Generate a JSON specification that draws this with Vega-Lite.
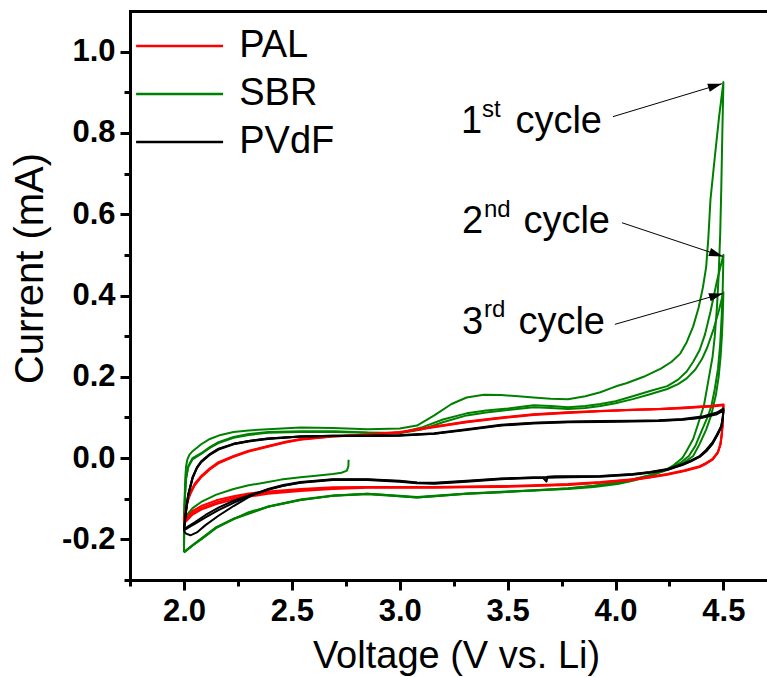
{
  "$schema": "https://vega.github.io/schema/vega-lite/v6.json",
  "width": 637,
  "height": 569,
  "autosize": {"type": "none"},
  "padding": {"left": 130, "top": 11, "right": 0, "bottom": 97},
  "background": "white",
  "config": {
    "view": {"stroke": null},
    "font": "Liberation Sans",
    "axis": {
      "grid": false,
      "domainColor": "black",
      "domainWidth": 3,
      "domainCap": "square",
      "tickColor": "black",
      "tickWidth": 3,
      "labelFont": "Liberation Sans",
      "labelFontWeight": "bold",
      "labelFontSize": 31,
      "labelColor": "black",
      "labelOverlap": false,
      "labelFlush": false,
      "titleFont": "Liberation Sans",
      "titleFontWeight": "normal",
      "titleFontSize": 38,
      "titleColor": "black"
    }
  },
  "datasets": {
    "cv": [
      {"b":"SBR","k":1,"v":2.763,"c":-0.004},{"b":"SBR","k":1,"v":2.762,"c":-0.02},{"b":"SBR","k":1,"v":2.755,"c":-0.031},{"b":"SBR","k":1,"v":2.73,"c":-0.036},{"b":"SBR","k":1,"v":2.69,"c":-0.039},{"b":"SBR","k":1,"v":2.6,"c":-0.044},{"b":"SBR","k":1,"v":2.54,"c":-0.047},{"b":"SBR","k":1,"v":2.45,"c":-0.053},{"b":"SBR","k":1,"v":2.39,"c":-0.059},{"b":"SBR","k":1,"v":2.3,"c":-0.067},{"b":"SBR","k":1,"v":2.23,"c":-0.076},{"b":"SBR","k":1,"v":2.15,"c":-0.09},{"b":"SBR","k":1,"v":2.08,"c":-0.108},{"b":"SBR","k":1,"v":2.04,"c":-0.123},{"b":"SBR","k":1,"v":2.01,"c":-0.142},{"b":"SBR","k":1,"v":2.0,"c":-0.152},
      {"b":"SBR","k":1,"v":2.003,"c":-0.1},{"b":"SBR","k":1,"v":2.006,"c":-0.05},{"b":"SBR","k":1,"v":2.01,"c":-0.02},{"b":"SBR","k":1,"v":2.016,"c":-0.003},{"b":"SBR","k":1,"v":2.025,"c":0.008},{"b":"SBR","k":1,"v":2.04,"c":0.017},{"b":"SBR","k":1,"v":2.08,"c":0.034},{"b":"SBR","k":1,"v":2.12,"c":0.047},{"b":"SBR","k":1,"v":2.17,"c":0.057},{"b":"SBR","k":1,"v":2.23,"c":0.064},{"b":"SBR","k":1,"v":2.3,"c":0.068},{"b":"SBR","k":1,"v":2.39,"c":0.071},{"b":"SBR","k":1,"v":2.54,"c":0.075},{"b":"SBR","k":1,"v":2.69,"c":0.074},{"b":"SBR","k":1,"v":2.85,"c":0.071},{"b":"SBR","k":1,"v":3.0,"c":0.073},{"b":"SBR","k":1,"v":3.08,"c":0.08},{"b":"SBR","k":1,"v":3.16,"c":0.105},{"b":"SBR","k":1,"v":3.24,"c":0.133},{"b":"SBR","k":1,"v":3.31,"c":0.149},{"b":"SBR","k":1,"v":3.39,"c":0.156},{"b":"SBR","k":1,"v":3.47,"c":0.155},{"b":"SBR","k":1,"v":3.55,"c":0.152},{"b":"SBR","k":1,"v":3.62,"c":0.149},{"b":"SBR","k":1,"v":3.7,"c":0.146},{"b":"SBR","k":1,"v":3.78,"c":0.145},{"b":"SBR","k":1,"v":3.86,"c":0.152},{"b":"SBR","k":1,"v":3.93,"c":0.162},{"b":"SBR","k":1,"v":3.98,"c":0.172},{"b":"SBR","k":1,"v":4.01,"c":0.178},{"b":"SBR","k":1,"v":4.05,"c":0.184},{"b":"SBR","k":1,"v":4.13,"c":0.2},{"b":"SBR","k":1,"v":4.21,"c":0.22},{"b":"SBR","k":1,"v":4.26,"c":0.237},{"b":"SBR","k":1,"v":4.3,"c":0.257},{"b":"SBR","k":1,"v":4.33,"c":0.285},{"b":"SBR","k":1,"v":4.36,"c":0.324},{"b":"SBR","k":1,"v":4.385,"c":0.37},{"b":"SBR","k":1,"v":4.405,"c":0.42},{"b":"SBR","k":1,"v":4.42,"c":0.47},{"b":"SBR","k":1,"v":4.43,"c":0.54},{"b":"SBR","k":1,"v":4.44,"c":0.636},{"b":"SBR","k":1,"v":4.46,"c":0.74},{"b":"SBR","k":1,"v":4.48,"c":0.84},{"b":"SBR","k":1,"v":4.5,"c":0.925},
      {"b":"SBR","k":1,"v":4.495,"c":0.8},{"b":"SBR","k":1,"v":4.49,"c":0.66},{"b":"SBR","k":1,"v":4.485,"c":0.55},{"b":"SBR","k":1,"v":4.478,"c":0.45},{"b":"SBR","k":1,"v":4.47,"c":0.37},{"b":"SBR","k":1,"v":4.46,"c":0.3},{"b":"SBR","k":1,"v":4.45,"c":0.25},{"b":"SBR","k":1,"v":4.43,"c":0.19},{"b":"SBR","k":1,"v":4.41,"c":0.13},{"b":"SBR","k":1,"v":4.39,"c":0.096},{"b":"SBR","k":1,"v":4.36,"c":0.047},{"b":"SBR","k":1,"v":4.33,"c":0.018},{"b":"SBR","k":1,"v":4.31,"c":0.0},{"b":"SBR","k":1,"v":4.27,"c":-0.017},{"b":"SBR","k":1,"v":4.24,"c":-0.027},{"b":"SBR","k":1,"v":4.16,"c":-0.044},{"b":"SBR","k":1,"v":4.08,"c":-0.056},{"b":"SBR","k":1,"v":4.01,"c":-0.064},{"b":"SBR","k":1,"v":3.9,"c":-0.071},{"b":"SBR","k":1,"v":3.78,"c":-0.076},{"b":"SBR","k":1,"v":3.62,"c":-0.08},{"b":"SBR","k":1,"v":3.47,"c":-0.084},{"b":"SBR","k":1,"v":3.31,"c":-0.088},{"b":"SBR","k":1,"v":3.16,"c":-0.094},{"b":"SBR","k":1,"v":3.08,"c":-0.097},{"b":"SBR","k":1,"v":3.0,"c":-0.094},{"b":"SBR","k":1,"v":2.92,"c":-0.09},{"b":"SBR","k":1,"v":2.85,"c":-0.088},{"b":"SBR","k":1,"v":2.69,"c":-0.093},{"b":"SBR","k":1,"v":2.54,"c":-0.103},{"b":"SBR","k":1,"v":2.39,"c":-0.12},{"b":"SBR","k":1,"v":2.3,"c":-0.133},{"b":"SBR","k":1,"v":2.23,"c":-0.15},{"b":"SBR","k":1,"v":2.15,"c":-0.172},{"b":"SBR","k":1,"v":2.08,"c":-0.2},{"b":"SBR","k":1,"v":2.04,"c":-0.215},{"b":"SBR","k":1,"v":2.0,"c":-0.232},

      {"b":"SBR","k":2,"v":2.0,"c":-0.232},{"b":"SBR","k":2,"v":2.002,"c":-0.15},{"b":"SBR","k":2,"v":2.005,"c":-0.09},{"b":"SBR","k":2,"v":2.01,"c":-0.05},{"b":"SBR","k":2,"v":2.02,"c":-0.02},{"b":"SBR","k":2,"v":2.04,"c":0.0},{"b":"SBR","k":2,"v":2.08,"c":0.012},{"b":"SBR","k":2,"v":2.12,"c":0.027},{"b":"SBR","k":2,"v":2.16,"c":0.039},{"b":"SBR","k":2,"v":2.23,"c":0.052},{"b":"SBR","k":2,"v":2.3,"c":0.059},{"b":"SBR","k":2,"v":2.39,"c":0.064},{"b":"SBR","k":2,"v":2.54,"c":0.066},{"b":"SBR","k":2,"v":2.7,"c":0.066},{"b":"SBR","k":2,"v":2.85,"c":0.063},{"b":"SBR","k":2,"v":3.0,"c":0.062},{"b":"SBR","k":2,"v":3.1,"c":0.075},{"b":"SBR","k":2,"v":3.2,"c":0.095},{"b":"SBR","k":2,"v":3.31,"c":0.11},{"b":"SBR","k":2,"v":3.4,"c":0.117},{"b":"SBR","k":2,"v":3.5,"c":0.122},{"b":"SBR","k":2,"v":3.62,"c":0.13},{"b":"SBR","k":2,"v":3.7,"c":0.128},{"b":"SBR","k":2,"v":3.78,"c":0.125},{"b":"SBR","k":2,"v":3.86,"c":0.128},{"b":"SBR","k":2,"v":3.93,"c":0.133},{"b":"SBR","k":2,"v":4.0,"c":0.14},{"b":"SBR","k":2,"v":4.08,"c":0.152},{"b":"SBR","k":2,"v":4.16,"c":0.165},{"b":"SBR","k":2,"v":4.24,"c":0.177},{"b":"SBR","k":2,"v":4.29,"c":0.193},{"b":"SBR","k":2,"v":4.33,"c":0.213},{"b":"SBR","k":2,"v":4.36,"c":0.237},{"b":"SBR","k":2,"v":4.39,"c":0.266},{"b":"SBR","k":2,"v":4.415,"c":0.305},{"b":"SBR","k":2,"v":4.44,"c":0.36},{"b":"SBR","k":2,"v":4.47,"c":0.435},{"b":"SBR","k":2,"v":4.5,"c":0.5},
      {"b":"SBR","k":2,"v":4.497,"c":0.42},{"b":"SBR","k":2,"v":4.492,"c":0.35},{"b":"SBR","k":2,"v":4.485,"c":0.28},{"b":"SBR","k":2,"v":4.475,"c":0.22},{"b":"SBR","k":2,"v":4.46,"c":0.17},{"b":"SBR","k":2,"v":4.445,"c":0.13},{"b":"SBR","k":2,"v":4.43,"c":0.105},{"b":"SBR","k":2,"v":4.4,"c":0.068},{"b":"SBR","k":2,"v":4.37,"c":0.03},{"b":"SBR","k":2,"v":4.34,"c":0.005},{"b":"SBR","k":2,"v":4.3,"c":-0.012},{"b":"SBR","k":2,"v":4.24,"c":-0.028},{"b":"SBR","k":2,"v":4.16,"c":-0.042},{"b":"SBR","k":2,"v":4.08,"c":-0.052},{"b":"SBR","k":2,"v":4.01,"c":-0.06},{"b":"SBR","k":2,"v":3.9,"c":-0.068},{"b":"SBR","k":2,"v":3.78,"c":-0.074},{"b":"SBR","k":2,"v":3.62,"c":-0.079},{"b":"SBR","k":2,"v":3.47,"c":-0.083},{"b":"SBR","k":2,"v":3.31,"c":-0.087},{"b":"SBR","k":2,"v":3.16,"c":-0.093},{"b":"SBR","k":2,"v":3.08,"c":-0.096},{"b":"SBR","k":2,"v":3.0,"c":-0.093},{"b":"SBR","k":2,"v":2.85,"c":-0.088},{"b":"SBR","k":2,"v":2.69,"c":-0.092},{"b":"SBR","k":2,"v":2.54,"c":-0.102},{"b":"SBR","k":2,"v":2.39,"c":-0.119},{"b":"SBR","k":2,"v":2.23,"c":-0.149},{"b":"SBR","k":2,"v":2.15,"c":-0.17},{"b":"SBR","k":2,"v":2.08,"c":-0.198},{"b":"SBR","k":2,"v":2.04,"c":-0.214},{"b":"SBR","k":2,"v":2.0,"c":-0.231},

      {"b":"SBR","k":3,"v":2.0,"c":-0.231},{"b":"SBR","k":3,"v":2.002,"c":-0.15},{"b":"SBR","k":3,"v":2.005,"c":-0.09},{"b":"SBR","k":3,"v":2.01,"c":-0.05},{"b":"SBR","k":3,"v":2.02,"c":-0.022},{"b":"SBR","k":3,"v":2.04,"c":-0.003},{"b":"SBR","k":3,"v":2.08,"c":0.01},{"b":"SBR","k":3,"v":2.12,"c":0.025},{"b":"SBR","k":3,"v":2.16,"c":0.037},{"b":"SBR","k":3,"v":2.23,"c":0.05},{"b":"SBR","k":3,"v":2.3,"c":0.057},{"b":"SBR","k":3,"v":2.39,"c":0.062},{"b":"SBR","k":3,"v":2.54,"c":0.064},{"b":"SBR","k":3,"v":2.7,"c":0.064},{"b":"SBR","k":3,"v":2.85,"c":0.062},{"b":"SBR","k":3,"v":3.0,"c":0.061},{"b":"SBR","k":3,"v":3.1,"c":0.07},{"b":"SBR","k":3,"v":3.2,"c":0.088},{"b":"SBR","k":3,"v":3.31,"c":0.105},{"b":"SBR","k":3,"v":3.4,"c":0.112},{"b":"SBR","k":3,"v":3.5,"c":0.118},{"b":"SBR","k":3,"v":3.62,"c":0.125},{"b":"SBR","k":3,"v":3.7,"c":0.123},{"b":"SBR","k":3,"v":3.78,"c":0.121},{"b":"SBR","k":3,"v":3.86,"c":0.123},{"b":"SBR","k":3,"v":3.93,"c":0.128},{"b":"SBR","k":3,"v":4.0,"c":0.135},{"b":"SBR","k":3,"v":4.08,"c":0.145},{"b":"SBR","k":3,"v":4.16,"c":0.157},{"b":"SBR","k":3,"v":4.24,"c":0.17},{"b":"SBR","k":3,"v":4.29,"c":0.182},{"b":"SBR","k":3,"v":4.33,"c":0.196},{"b":"SBR","k":3,"v":4.37,"c":0.218},{"b":"SBR","k":3,"v":4.4,"c":0.243},{"b":"SBR","k":3,"v":4.425,"c":0.272},{"b":"SBR","k":3,"v":4.455,"c":0.318},{"b":"SBR","k":3,"v":4.48,"c":0.365},{"b":"SBR","k":3,"v":4.5,"c":0.408},
      {"b":"SBR","k":3,"v":4.497,"c":0.35},{"b":"SBR","k":3,"v":4.493,"c":0.3},{"b":"SBR","k":3,"v":4.487,"c":0.25},{"b":"SBR","k":3,"v":4.478,"c":0.2},{"b":"SBR","k":3,"v":4.465,"c":0.155},{"b":"SBR","k":3,"v":4.45,"c":0.12},{"b":"SBR","k":3,"v":4.44,"c":0.1},{"b":"SBR","k":3,"v":4.42,"c":0.07},{"b":"SBR","k":3,"v":4.39,"c":0.035},{"b":"SBR","k":3,"v":4.36,"c":0.005},{"b":"SBR","k":3,"v":4.32,"c":-0.01},{"b":"SBR","k":3,"v":4.26,"c":-0.026},{"b":"SBR","k":3,"v":4.18,"c":-0.04},{"b":"SBR","k":3,"v":4.08,"c":-0.053},{"b":"SBR","k":3,"v":4.01,"c":-0.061},{"b":"SBR","k":3,"v":3.9,"c":-0.069},{"b":"SBR","k":3,"v":3.78,"c":-0.075},{"b":"SBR","k":3,"v":3.62,"c":-0.08},{"b":"SBR","k":3,"v":3.47,"c":-0.084},{"b":"SBR","k":3,"v":3.31,"c":-0.088},{"b":"SBR","k":3,"v":3.16,"c":-0.094},{"b":"SBR","k":3,"v":3.08,"c":-0.097},{"b":"SBR","k":3,"v":3.0,"c":-0.094},{"b":"SBR","k":3,"v":2.85,"c":-0.089},{"b":"SBR","k":3,"v":2.69,"c":-0.093},{"b":"SBR","k":3,"v":2.54,"c":-0.103},{"b":"SBR","k":3,"v":2.39,"c":-0.12},{"b":"SBR","k":3,"v":2.23,"c":-0.15},{"b":"SBR","k":3,"v":2.15,"c":-0.171},{"b":"SBR","k":3,"v":2.08,"c":-0.199},{"b":"SBR","k":3,"v":2.04,"c":-0.215},{"b":"SBR","k":3,"v":2.0,"c":-0.232},

      {"b":"PAL","k":1,"v":2.0,"c":-0.152},{"b":"PAL","k":1,"v":2.01,"c":-0.12},{"b":"PAL","k":1,"v":2.02,"c":-0.098},{"b":"PAL","k":1,"v":2.03,"c":-0.084},{"b":"PAL","k":1,"v":2.05,"c":-0.063},{"b":"PAL","k":1,"v":2.08,"c":-0.044},{"b":"PAL","k":1,"v":2.12,"c":-0.025},{"b":"PAL","k":1,"v":2.16,"c":-0.01},{"b":"PAL","k":1,"v":2.23,"c":0.005},{"b":"PAL","k":1,"v":2.3,"c":0.018},{"b":"PAL","k":1,"v":2.39,"c":0.03},{"b":"PAL","k":1,"v":2.47,"c":0.04},{"b":"PAL","k":1,"v":2.54,"c":0.047},{"b":"PAL","k":1,"v":2.69,"c":0.054},{"b":"PAL","k":1,"v":2.85,"c":0.058},{"b":"PAL","k":1,"v":3.0,"c":0.064},{"b":"PAL","k":1,"v":3.16,"c":0.078},{"b":"PAL","k":1,"v":3.31,"c":0.09},{"b":"PAL","k":1,"v":3.47,"c":0.1},{"b":"PAL","k":1,"v":3.62,"c":0.108},{"b":"PAL","k":1,"v":3.78,"c":0.113},{"b":"PAL","k":1,"v":3.93,"c":0.116},{"b":"PAL","k":1,"v":4.08,"c":0.119},{"b":"PAL","k":1,"v":4.2,"c":0.121},{"b":"PAL","k":1,"v":4.3,"c":0.124},{"b":"PAL","k":1,"v":4.39,"c":0.127},{"b":"PAL","k":1,"v":4.45,"c":0.129},{"b":"PAL","k":1,"v":4.5,"c":0.132},
      {"b":"PAL","k":1,"v":4.497,"c":0.09},{"b":"PAL","k":1,"v":4.493,"c":0.06},{"b":"PAL","k":1,"v":4.487,"c":0.035},{"b":"PAL","k":1,"v":4.475,"c":0.015},{"b":"PAL","k":1,"v":4.45,"c":-0.002},{"b":"PAL","k":1,"v":4.42,"c":-0.012},{"b":"PAL","k":1,"v":4.39,"c":-0.02},{"b":"PAL","k":1,"v":4.32,"c":-0.03},{"b":"PAL","k":1,"v":4.24,"c":-0.039},{"b":"PAL","k":1,"v":4.16,"c":-0.046},{"b":"PAL","k":1,"v":4.08,"c":-0.052},{"b":"PAL","k":1,"v":3.93,"c":-0.059},{"b":"PAL","k":1,"v":3.78,"c":-0.064},{"b":"PAL","k":1,"v":3.62,"c":-0.067},{"b":"PAL","k":1,"v":3.47,"c":-0.069},{"b":"PAL","k":1,"v":3.31,"c":-0.07},{"b":"PAL","k":1,"v":3.16,"c":-0.071},{"b":"PAL","k":1,"v":3.0,"c":-0.071},{"b":"PAL","k":1,"v":2.85,"c":-0.071},{"b":"PAL","k":1,"v":2.69,"c":-0.072},{"b":"PAL","k":1,"v":2.54,"c":-0.076},{"b":"PAL","k":1,"v":2.39,"c":-0.082},{"b":"PAL","k":1,"v":2.3,"c":-0.087},{"b":"PAL","k":1,"v":2.23,"c":-0.094},{"b":"PAL","k":1,"v":2.15,"c":-0.104},{"b":"PAL","k":1,"v":2.08,"c":-0.118},{"b":"PAL","k":1,"v":2.04,"c":-0.13},{"b":"PAL","k":1,"v":2.02,"c":-0.142},{"b":"PAL","k":1,"v":2.0,"c":-0.155},

      {"b":"PAL","k":2,"v":2.0,"c":-0.156},{"b":"PAL","k":2,"v":2.01,"c":-0.123},{"b":"PAL","k":2,"v":2.02,"c":-0.1},{"b":"PAL","k":2,"v":2.03,"c":-0.086},{"b":"PAL","k":2,"v":2.05,"c":-0.065},{"b":"PAL","k":2,"v":2.08,"c":-0.046},{"b":"PAL","k":2,"v":2.12,"c":-0.027},{"b":"PAL","k":2,"v":2.16,"c":-0.012},{"b":"PAL","k":2,"v":2.23,"c":0.004},{"b":"PAL","k":2,"v":2.3,"c":0.017},{"b":"PAL","k":2,"v":2.39,"c":0.029},{"b":"PAL","k":2,"v":2.47,"c":0.039},{"b":"PAL","k":2,"v":2.54,"c":0.046},{"b":"PAL","k":2,"v":2.69,"c":0.053},{"b":"PAL","k":2,"v":2.85,"c":0.058},{"b":"PAL","k":2,"v":3.0,"c":0.063},{"b":"PAL","k":2,"v":3.16,"c":0.077},{"b":"PAL","k":2,"v":3.31,"c":0.089},{"b":"PAL","k":2,"v":3.47,"c":0.099},{"b":"PAL","k":2,"v":3.62,"c":0.107},{"b":"PAL","k":2,"v":3.78,"c":0.112},{"b":"PAL","k":2,"v":3.93,"c":0.116},{"b":"PAL","k":2,"v":4.08,"c":0.119},{"b":"PAL","k":2,"v":4.2,"c":0.121},{"b":"PAL","k":2,"v":4.3,"c":0.123},{"b":"PAL","k":2,"v":4.39,"c":0.126},{"b":"PAL","k":2,"v":4.45,"c":0.128},{"b":"PAL","k":2,"v":4.5,"c":0.131},
      {"b":"PAL","k":2,"v":4.497,"c":0.088},{"b":"PAL","k":2,"v":4.492,"c":0.058},{"b":"PAL","k":2,"v":4.486,"c":0.034},{"b":"PAL","k":2,"v":4.474,"c":0.014},{"b":"PAL","k":2,"v":4.45,"c":-0.003},{"b":"PAL","k":2,"v":4.42,"c":-0.013},{"b":"PAL","k":2,"v":4.39,"c":-0.021},{"b":"PAL","k":2,"v":4.32,"c":-0.031},{"b":"PAL","k":2,"v":4.24,"c":-0.04},{"b":"PAL","k":2,"v":4.16,"c":-0.047},{"b":"PAL","k":2,"v":4.08,"c":-0.053},{"b":"PAL","k":2,"v":3.93,"c":-0.06},{"b":"PAL","k":2,"v":3.78,"c":-0.065},{"b":"PAL","k":2,"v":3.62,"c":-0.068},{"b":"PAL","k":2,"v":3.47,"c":-0.07},{"b":"PAL","k":2,"v":3.31,"c":-0.071},{"b":"PAL","k":2,"v":3.16,"c":-0.072},{"b":"PAL","k":2,"v":3.0,"c":-0.072},{"b":"PAL","k":2,"v":2.85,"c":-0.072},{"b":"PAL","k":2,"v":2.69,"c":-0.074},{"b":"PAL","k":2,"v":2.54,"c":-0.078},{"b":"PAL","k":2,"v":2.39,"c":-0.085},{"b":"PAL","k":2,"v":2.3,"c":-0.091},{"b":"PAL","k":2,"v":2.23,"c":-0.098},{"b":"PAL","k":2,"v":2.15,"c":-0.109},{"b":"PAL","k":2,"v":2.08,"c":-0.123},{"b":"PAL","k":2,"v":2.04,"c":-0.135},{"b":"PAL","k":2,"v":2.02,"c":-0.146},{"b":"PAL","k":2,"v":2.0,"c":-0.158},

      {"b":"PAL","k":3,"v":2.0,"c":-0.158},{"b":"PAL","k":3,"v":2.01,"c":-0.125},{"b":"PAL","k":3,"v":2.02,"c":-0.102},{"b":"PAL","k":3,"v":2.03,"c":-0.088},{"b":"PAL","k":3,"v":2.05,"c":-0.067},{"b":"PAL","k":3,"v":2.08,"c":-0.047},{"b":"PAL","k":3,"v":2.12,"c":-0.028},{"b":"PAL","k":3,"v":2.16,"c":-0.013},{"b":"PAL","k":3,"v":2.23,"c":0.003},{"b":"PAL","k":3,"v":2.3,"c":0.016},{"b":"PAL","k":3,"v":2.39,"c":0.028},{"b":"PAL","k":3,"v":2.47,"c":0.038},{"b":"PAL","k":3,"v":2.54,"c":0.045},{"b":"PAL","k":3,"v":2.69,"c":0.053},{"b":"PAL","k":3,"v":2.85,"c":0.057},{"b":"PAL","k":3,"v":3.0,"c":0.063},{"b":"PAL","k":3,"v":3.16,"c":0.076},{"b":"PAL","k":3,"v":3.31,"c":0.088},{"b":"PAL","k":3,"v":3.47,"c":0.098},{"b":"PAL","k":3,"v":3.62,"c":0.106},{"b":"PAL","k":3,"v":3.78,"c":0.111},{"b":"PAL","k":3,"v":3.93,"c":0.115},{"b":"PAL","k":3,"v":4.08,"c":0.118},{"b":"PAL","k":3,"v":4.2,"c":0.12},{"b":"PAL","k":3,"v":4.3,"c":0.122},{"b":"PAL","k":3,"v":4.39,"c":0.125},{"b":"PAL","k":3,"v":4.45,"c":0.127},{"b":"PAL","k":3,"v":4.5,"c":0.13},
      {"b":"PAL","k":3,"v":4.497,"c":0.087},{"b":"PAL","k":3,"v":4.492,"c":0.057},{"b":"PAL","k":3,"v":4.486,"c":0.033},{"b":"PAL","k":3,"v":4.474,"c":0.013},{"b":"PAL","k":3,"v":4.45,"c":-0.004},{"b":"PAL","k":3,"v":4.42,"c":-0.014},{"b":"PAL","k":3,"v":4.39,"c":-0.022},{"b":"PAL","k":3,"v":4.32,"c":-0.032},{"b":"PAL","k":3,"v":4.24,"c":-0.041},{"b":"PAL","k":3,"v":4.16,"c":-0.048},{"b":"PAL","k":3,"v":4.08,"c":-0.054},{"b":"PAL","k":3,"v":3.93,"c":-0.061},{"b":"PAL","k":3,"v":3.78,"c":-0.066},{"b":"PAL","k":3,"v":3.62,"c":-0.069},{"b":"PAL","k":3,"v":3.47,"c":-0.071},{"b":"PAL","k":3,"v":3.31,"c":-0.072},{"b":"PAL","k":3,"v":3.16,"c":-0.073},{"b":"PAL","k":3,"v":3.0,"c":-0.073},{"b":"PAL","k":3,"v":2.85,"c":-0.073},{"b":"PAL","k":3,"v":2.69,"c":-0.076},{"b":"PAL","k":3,"v":2.54,"c":-0.081},{"b":"PAL","k":3,"v":2.39,"c":-0.088},{"b":"PAL","k":3,"v":2.3,"c":-0.095},{"b":"PAL","k":3,"v":2.23,"c":-0.102},{"b":"PAL","k":3,"v":2.15,"c":-0.113},{"b":"PAL","k":3,"v":2.08,"c":-0.127},{"b":"PAL","k":3,"v":2.04,"c":-0.139},{"b":"PAL","k":3,"v":2.02,"c":-0.15},{"b":"PAL","k":3,"v":2.0,"c":-0.161},

      {"b":"PVdF","k":1,"v":2.0,"c":-0.18},{"b":"PVdF","k":1,"v":2.008,"c":-0.14},{"b":"PVdF","k":1,"v":2.015,"c":-0.11},{"b":"PVdF","k":1,"v":2.02,"c":-0.093},{"b":"PVdF","k":1,"v":2.04,"c":-0.05},{"b":"PVdF","k":1,"v":2.06,"c":-0.025},{"b":"PVdF","k":1,"v":2.08,"c":-0.01},{"b":"PVdF","k":1,"v":2.12,"c":0.008},{"b":"PVdF","k":1,"v":2.16,"c":0.021},{"b":"PVdF","k":1,"v":2.23,"c":0.034},{"b":"PVdF","k":1,"v":2.3,"c":0.041},{"b":"PVdF","k":1,"v":2.39,"c":0.047},{"b":"PVdF","k":1,"v":2.54,"c":0.053},{"b":"PVdF","k":1,"v":2.69,"c":0.055},{"b":"PVdF","k":1,"v":2.85,"c":0.055},{"b":"PVdF","k":1,"v":3.0,"c":0.056},{"b":"PVdF","k":1,"v":3.16,"c":0.061},{"b":"PVdF","k":1,"v":3.31,"c":0.071},{"b":"PVdF","k":1,"v":3.47,"c":0.082},{"b":"PVdF","k":1,"v":3.62,"c":0.087},{"b":"PVdF","k":1,"v":3.78,"c":0.09},{"b":"PVdF","k":1,"v":3.93,"c":0.091},{"b":"PVdF","k":1,"v":4.08,"c":0.092},{"b":"PVdF","k":1,"v":4.2,"c":0.093},{"b":"PVdF","k":1,"v":4.31,"c":0.096},{"b":"PVdF","k":1,"v":4.4,"c":0.102},{"b":"PVdF","k":1,"v":4.47,"c":0.112},{"b":"PVdF","k":1,"v":4.5,"c":0.122},
      {"b":"PVdF","k":1,"v":4.497,"c":0.1},{"b":"PVdF","k":1,"v":4.49,"c":0.079},{"b":"PVdF","k":1,"v":4.47,"c":0.058},{"b":"PVdF","k":1,"v":4.45,"c":0.039},{"b":"PVdF","k":1,"v":4.42,"c":0.02},{"b":"PVdF","k":1,"v":4.39,"c":0.005},{"b":"PVdF","k":1,"v":4.35,"c":-0.006},{"b":"PVdF","k":1,"v":4.31,"c":-0.015},{"b":"PVdF","k":1,"v":4.24,"c":-0.027},{"b":"PVdF","k":1,"v":4.16,"c":-0.034},{"b":"PVdF","k":1,"v":4.08,"c":-0.039},{"b":"PVdF","k":1,"v":3.93,"c":-0.044},{"b":"PVdF","k":1,"v":3.78,"c":-0.045},{"b":"PVdF","k":1,"v":3.72,"c":-0.045},{"b":"PVdF","k":1,"v":3.685,"c":-0.046},{"b":"PVdF","k":1,"v":3.68,"c":-0.058},{"b":"PVdF","k":1,"v":3.665,"c":-0.049},{"b":"PVdF","k":1,"v":3.62,"c":-0.048},{"b":"PVdF","k":1,"v":3.47,"c":-0.05},{"b":"PVdF","k":1,"v":3.31,"c":-0.056},{"b":"PVdF","k":1,"v":3.16,"c":-0.061},{"b":"PVdF","k":1,"v":3.08,"c":-0.06},{"b":"PVdF","k":1,"v":3.0,"c":-0.056},{"b":"PVdF","k":1,"v":2.85,"c":-0.052},{"b":"PVdF","k":1,"v":2.69,"c":-0.052},{"b":"PVdF","k":1,"v":2.54,"c":-0.059},{"b":"PVdF","k":1,"v":2.46,"c":-0.066},{"b":"PVdF","k":1,"v":2.39,"c":-0.076},{"b":"PVdF","k":1,"v":2.31,"c":-0.093},{"b":"PVdF","k":1,"v":2.23,"c":-0.118},{"b":"PVdF","k":1,"v":2.16,"c":-0.142},{"b":"PVdF","k":1,"v":2.1,"c":-0.165},{"b":"PVdF","k":1,"v":2.06,"c":-0.183},{"b":"PVdF","k":1,"v":2.03,"c":-0.19},{"b":"PVdF","k":1,"v":2.01,"c":-0.186},{"b":"PVdF","k":1,"v":2.0,"c":-0.18},

      {"b":"PVdF","k":2,"v":2.0,"c":-0.178},{"b":"PVdF","k":2,"v":2.008,"c":-0.138},{"b":"PVdF","k":2,"v":2.015,"c":-0.108},{"b":"PVdF","k":2,"v":2.02,"c":-0.09},{"b":"PVdF","k":2,"v":2.04,"c":-0.048},{"b":"PVdF","k":2,"v":2.06,"c":-0.024},{"b":"PVdF","k":2,"v":2.08,"c":-0.009},{"b":"PVdF","k":2,"v":2.12,"c":0.009},{"b":"PVdF","k":2,"v":2.16,"c":0.022},{"b":"PVdF","k":2,"v":2.23,"c":0.035},{"b":"PVdF","k":2,"v":2.3,"c":0.042},{"b":"PVdF","k":2,"v":2.39,"c":0.048},{"b":"PVdF","k":2,"v":2.54,"c":0.053},{"b":"PVdF","k":2,"v":2.69,"c":0.055},{"b":"PVdF","k":2,"v":2.85,"c":0.055},{"b":"PVdF","k":2,"v":3.0,"c":0.056},{"b":"PVdF","k":2,"v":3.16,"c":0.06},{"b":"PVdF","k":2,"v":3.31,"c":0.07},{"b":"PVdF","k":2,"v":3.47,"c":0.081},{"b":"PVdF","k":2,"v":3.62,"c":0.086},{"b":"PVdF","k":2,"v":3.78,"c":0.089},{"b":"PVdF","k":2,"v":3.93,"c":0.09},{"b":"PVdF","k":2,"v":4.08,"c":0.091},{"b":"PVdF","k":2,"v":4.2,"c":0.092},{"b":"PVdF","k":2,"v":4.31,"c":0.095},{"b":"PVdF","k":2,"v":4.4,"c":0.1},{"b":"PVdF","k":2,"v":4.47,"c":0.11},{"b":"PVdF","k":2,"v":4.5,"c":0.119},
      {"b":"PVdF","k":2,"v":4.497,"c":0.098},{"b":"PVdF","k":2,"v":4.49,"c":0.077},{"b":"PVdF","k":2,"v":4.47,"c":0.056},{"b":"PVdF","k":2,"v":4.45,"c":0.037},{"b":"PVdF","k":2,"v":4.42,"c":0.018},{"b":"PVdF","k":2,"v":4.39,"c":0.004},{"b":"PVdF","k":2,"v":4.35,"c":-0.007},{"b":"PVdF","k":2,"v":4.31,"c":-0.016},{"b":"PVdF","k":2,"v":4.24,"c":-0.028},{"b":"PVdF","k":2,"v":4.16,"c":-0.035},{"b":"PVdF","k":2,"v":4.08,"c":-0.04},{"b":"PVdF","k":2,"v":3.93,"c":-0.045},{"b":"PVdF","k":2,"v":3.78,"c":-0.046},{"b":"PVdF","k":2,"v":3.62,"c":-0.048},{"b":"PVdF","k":2,"v":3.47,"c":-0.051},{"b":"PVdF","k":2,"v":3.31,"c":-0.057},{"b":"PVdF","k":2,"v":3.16,"c":-0.062},{"b":"PVdF","k":2,"v":3.08,"c":-0.061},{"b":"PVdF","k":2,"v":3.0,"c":-0.057},{"b":"PVdF","k":2,"v":2.85,"c":-0.053},{"b":"PVdF","k":2,"v":2.69,"c":-0.053},{"b":"PVdF","k":2,"v":2.54,"c":-0.06},{"b":"PVdF","k":2,"v":2.46,"c":-0.068},{"b":"PVdF","k":2,"v":2.39,"c":-0.078},{"b":"PVdF","k":2,"v":2.31,"c":-0.092},{"b":"PVdF","k":2,"v":2.23,"c":-0.11},{"b":"PVdF","k":2,"v":2.16,"c":-0.128},{"b":"PVdF","k":2,"v":2.1,"c":-0.146},{"b":"PVdF","k":2,"v":2.05,"c":-0.162},{"b":"PVdF","k":2,"v":2.02,"c":-0.171},{"b":"PVdF","k":2,"v":2.0,"c":-0.178},

      {"b":"PVdF","k":3,"v":2.0,"c":-0.176},{"b":"PVdF","k":3,"v":2.008,"c":-0.136},{"b":"PVdF","k":3,"v":2.015,"c":-0.107},{"b":"PVdF","k":3,"v":2.02,"c":-0.089},{"b":"PVdF","k":3,"v":2.04,"c":-0.047},{"b":"PVdF","k":3,"v":2.06,"c":-0.023},{"b":"PVdF","k":3,"v":2.08,"c":-0.008},{"b":"PVdF","k":3,"v":2.12,"c":0.01},{"b":"PVdF","k":3,"v":2.16,"c":0.023},{"b":"PVdF","k":3,"v":2.23,"c":0.035},{"b":"PVdF","k":3,"v":2.3,"c":0.042},{"b":"PVdF","k":3,"v":2.39,"c":0.048},{"b":"PVdF","k":3,"v":2.54,"c":0.053},{"b":"PVdF","k":3,"v":2.69,"c":0.054},{"b":"PVdF","k":3,"v":2.85,"c":0.054},{"b":"PVdF","k":3,"v":3.0,"c":0.055},{"b":"PVdF","k":3,"v":3.16,"c":0.06},{"b":"PVdF","k":3,"v":3.31,"c":0.069},{"b":"PVdF","k":3,"v":3.47,"c":0.08},{"b":"PVdF","k":3,"v":3.62,"c":0.085},{"b":"PVdF","k":3,"v":3.78,"c":0.088},{"b":"PVdF","k":3,"v":3.93,"c":0.089},{"b":"PVdF","k":3,"v":4.08,"c":0.09},{"b":"PVdF","k":3,"v":4.2,"c":0.091},{"b":"PVdF","k":3,"v":4.31,"c":0.094},{"b":"PVdF","k":3,"v":4.4,"c":0.099},{"b":"PVdF","k":3,"v":4.47,"c":0.108},{"b":"PVdF","k":3,"v":4.5,"c":0.117},
      {"b":"PVdF","k":3,"v":4.497,"c":0.096},{"b":"PVdF","k":3,"v":4.49,"c":0.075},{"b":"PVdF","k":3,"v":4.47,"c":0.054},{"b":"PVdF","k":3,"v":4.45,"c":0.035},{"b":"PVdF","k":3,"v":4.42,"c":0.016},{"b":"PVdF","k":3,"v":4.39,"c":0.003},{"b":"PVdF","k":3,"v":4.35,"c":-0.008},{"b":"PVdF","k":3,"v":4.31,"c":-0.017},{"b":"PVdF","k":3,"v":4.24,"c":-0.029},{"b":"PVdF","k":3,"v":4.16,"c":-0.036},{"b":"PVdF","k":3,"v":4.08,"c":-0.041},{"b":"PVdF","k":3,"v":3.93,"c":-0.046},{"b":"PVdF","k":3,"v":3.78,"c":-0.047},{"b":"PVdF","k":3,"v":3.62,"c":-0.049},{"b":"PVdF","k":3,"v":3.47,"c":-0.052},{"b":"PVdF","k":3,"v":3.31,"c":-0.058},{"b":"PVdF","k":3,"v":3.16,"c":-0.063},{"b":"PVdF","k":3,"v":3.08,"c":-0.062},{"b":"PVdF","k":3,"v":3.0,"c":-0.058},{"b":"PVdF","k":3,"v":2.85,"c":-0.054},{"b":"PVdF","k":3,"v":2.69,"c":-0.054},{"b":"PVdF","k":3,"v":2.54,"c":-0.061},{"b":"PVdF","k":3,"v":2.46,"c":-0.068},{"b":"PVdF","k":3,"v":2.39,"c":-0.077},{"b":"PVdF","k":3,"v":2.31,"c":-0.09},{"b":"PVdF","k":3,"v":2.23,"c":-0.105},{"b":"PVdF","k":3,"v":2.16,"c":-0.122},{"b":"PVdF","k":3,"v":2.1,"c":-0.14},{"b":"PVdF","k":3,"v":2.05,"c":-0.158},{"b":"PVdF","k":3,"v":2.02,"c":-0.168},{"b":"PVdF","k":3,"v":2.0,"c":-0.176}
    ],
    "notes": [
      {"t":"1","v":3.284,"c":0.800},{"t":"cycle","v":3.536,"c":0.800},
      {"t":"2","v":3.288,"c":0.555},{"t":"cycle","v":3.573,"c":0.555},
      {"t":"3","v":3.288,"c":0.306},{"t":"cycle","v":3.550,"c":0.306}
    ],
    "sups": [
      {"t":"st","v":3.381,"c":0.840},
      {"t":"nd","v":3.390,"c":0.594},
      {"t":"rd","v":3.390,"c":0.346}
    ],
    "arrows": [
      {"a":1,"end":"tail","v":3.988,"c":0.840},{"a":1,"end":"tip","v":4.493,"c":0.921},
      {"a":2,"end":"tail","v":4.030,"c":0.579},{"a":2,"end":"tip","v":4.498,"c":0.496},
      {"a":3,"end":"tail","v":3.997,"c":0.329},{"a":3,"end":"tip","v":4.498,"c":0.405}
    ]
  },
  "resolve": {"axis": {"x": "independent", "y": "independent"}},
  "layer": [
    {
      "data": {"name": "cv"},
      "mark": {"type": "line", "strokeWidth": 2, "strokeJoin": "round"},
      "encoding": {
        "x": {
          "field": "v", "type": "quantitative",
          "scale": {"domain": [1.75, 4.702], "nice": false, "zero": false},
          "axis": {
            "orient": "bottom",
            "values": [2.0, 2.5, 3.0, 3.5, 4.0, 4.5],
            "format": ".1f",
            "tickSize": 10,
            "labelPadding": 6,
            "title": "Voltage (V vs. Li)",
            "titleX": 326,
            "titleY": 87,
            "titleBaseline": "alphabetic",
            "titleAlign": "center"
          }
        },
        "y": {
          "field": "c", "type": "quantitative",
          "scale": {"domain": [-0.3, 1.1], "nice": false, "zero": false},
          "axis": {
            "orient": "left",
            "values": [-0.2, 0.0, 0.2, 0.4, 0.6, 0.8, 1.0],
            "labelExpr": "replace(format(datum.value, '.1f'), '−', '-')",
            "tickSize": 10,
            "labelPadding": 5,
            "title": "Current (mA)",
            "titleFontSize": 40,
            "titleX": -88,
            "titleY": 257,
            "titleAngle": -90,
            "titleBaseline": "alphabetic",
            "titleAlign": "center"
          }
        },
        "color": {
          "field": "b", "type": "nominal",
          "scale": {"domain": ["PAL", "SBR", "PVdF"], "range": ["#ff0000", "#008000", "#000000"]},
          "legend": {
            "orient": "none",
            "legendX": 30.6,
            "legendY": 16,
            "title": null,
            "padding": 0,
            "symbolType": "M-4,0L4,0",
            "symbolSize": 473,
            "symbolStrokeWidth": 2.5,
            "symbolFillColor": "transparent",
            "labelFont": "Liberation Sans",
            "labelFontSize": 38,
            "labelColor": "black",
            "labelOffset": 40.6,
            "rowPadding": 10
          }
        },
        "detail": {"field": "k", "type": "nominal"},
        "order": {"value": null}
      }
    },
    {
      "data": {"name": "sups"},
      "mark": {"type": "text", "font": "Liberation Sans", "fontSize": 24, "align": "left", "baseline": "alphabetic", "color": "black"},
      "encoding": {
        "x": {
          "field": "v", "type": "quantitative",
          "scale": {"domain": [1.75, 4.702], "nice": false, "zero": false},
          "axis": {"orient": "bottom", "values": [1.75, 2.25, 2.75, 3.25, 3.75, 4.25, 4.75], "tickSize": 6, "labels": false, "domain": false, "title": null}
        },
        "y": {
          "field": "c", "type": "quantitative",
          "scale": {"domain": [-0.3, 1.1], "nice": false, "zero": false},
          "axis": {"orient": "left", "values": [-0.3, -0.1, 0.1, 0.3, 0.5, 0.7, 0.9], "tickSize": 6, "labels": false, "domain": false, "title": null}
        },
        "text": {"field": "t"}
      }
    },
    {
      "data": {"name": "notes"},
      "mark": {"type": "text", "font": "Liberation Sans", "fontSize": 38, "align": "left", "baseline": "alphabetic", "color": "black"},
      "encoding": {
        "x": {
          "field": "v", "type": "quantitative",
          "scale": {"domain": [1.75, 4.702], "nice": false, "zero": false},
          "axis": {"orient": "top", "ticks": false, "labels": false, "domain": true, "title": null}
        },
        "y": {
          "field": "c", "type": "quantitative",
          "scale": {"domain": [-0.3, 1.1], "nice": false, "zero": false},
          "axis": null
        },
        "text": {"field": "t"}
      }
    },
    {
      "data": {"name": "arrows"},
      "mark": {"type": "line", "color": "black", "strokeWidth": 1},
      "encoding": {
        "x": {"field": "v", "type": "quantitative", "scale": {"domain": [1.75, 4.702], "nice": false, "zero": false}, "axis": null},
        "y": {"field": "c", "type": "quantitative", "scale": {"domain": [-0.3, 1.1], "nice": false, "zero": false}, "axis": null},
        "detail": {"field": "a", "type": "nominal"},
        "order": {"value": null}
      }
    },
    {
      "data": {"name": "arrows"},
      "transform": [{"filter": "datum.a == 1 && datum.end == 'tip'"}],
      "mark": {"type": "point", "shape": "M0,0L-2,-0.6L-2,0.6Z", "size": 196, "filled": true, "color": "black", "opacity": 1, "angle": 343.2},
      "encoding": {
        "x": {"field": "v", "type": "quantitative", "scale": {"domain": [1.75, 4.702], "nice": false, "zero": false}, "axis": null},
        "y": {"field": "c", "type": "quantitative", "scale": {"domain": [-0.3, 1.1], "nice": false, "zero": false}, "axis": null}
      }
    },
    {
      "data": {"name": "arrows"},
      "transform": [{"filter": "datum.a == 2 && datum.end == 'tip'"}],
      "mark": {"type": "point", "shape": "M0,0L-2,-0.6L-2,0.6Z", "size": 196, "filled": true, "color": "black", "opacity": 1, "angle": 18.6},
      "encoding": {
        "x": {"field": "v", "type": "quantitative", "scale": {"domain": [1.75, 4.702], "nice": false, "zero": false}, "axis": null},
        "y": {"field": "c", "type": "quantitative", "scale": {"domain": [-0.3, 1.1], "nice": false, "zero": false}, "axis": null}
      }
    },
    {
      "data": {"name": "arrows"},
      "transform": [{"filter": "datum.a == 3 && datum.end == 'tip'"}],
      "mark": {"type": "point", "shape": "M0,0L-2,-0.6L-2,0.6Z", "size": 196, "filled": true, "color": "black", "opacity": 1, "angle": 344},
      "encoding": {
        "x": {"field": "v", "type": "quantitative", "scale": {"domain": [1.75, 4.702], "nice": false, "zero": false}, "axis": null},
        "y": {"field": "c", "type": "quantitative", "scale": {"domain": [-0.3, 1.1], "nice": false, "zero": false}, "axis": null}
      }
    }
  ]
}
